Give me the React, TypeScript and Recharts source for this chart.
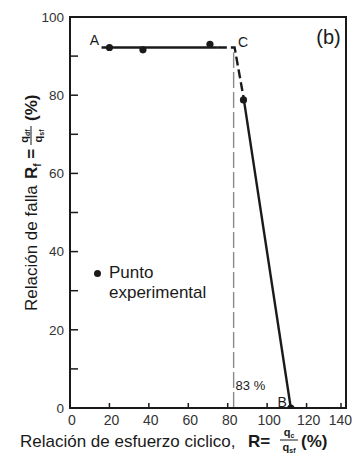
import {
  ComposedChart,
  Customized,
  Legend,
  Line,
  ReferenceArea,
  ReferenceDot,
  ReferenceLine,
  Scatter,
  XAxis,
  YAxis,
} from "recharts";

// axis ticks
const xTicks = [0, 20, 40, 60, 80, 100, 120, 140];
const yTicks = [0, 10, 20, 30, 40, 50, 60, 70, 80, 90, 100];

// experimental points
const expX = [20, 37, 71, 88, 112];
const expY = [92.2, 91.6, 93, 78.8, 0];

// interpreted failure line A -> C -> B
const plateauX = [16, 75];
const plateauY = [92.2, 92.2];
const dashX = [75, 83.5, 88];
const dashY = [92.2, 92.2, 79.5];
const dropX = [88, 112];
const dropY = [79.5, 0];

const thresholdR = 83;
const thresholdTop = 91;

const font = "'Liberation Sans', Arial, sans-serif";
const ink = "#1a1a1a";

const toPoints = (xs: number[], ys: number[]) =>
  xs.map((x, i) => ({ x, y: ys[i] }));

const expData = toPoints(expX, expY);
const plateauData = toPoints(plateauX, plateauY);
const dashData = toPoints(dashX, dashY);
const dropData = toPoints(dropX, dropY);

function XTick({ x, y, payload }: any) {
  const label = String(payload.value);
  // keep the last label inside the picture
  const half = (label.length * 0.556 * 14) / 2;
  const tx = Math.min(x + 2, 352 - half);
  return (
    <g>
      <line x1={x} x2={x} y1={y - 6} y2={y - 11} stroke={ink} strokeWidth={1.5} />
      <text x={tx} y={y + 1} dy="0.71em" textAnchor="middle" fontSize={14} fill="#333" fontFamily={font}>
        {label}
      </text>
    </g>
  );
}

function YTick({ x, y, payload }: any) {
  const major = payload.value % 20 === 0;
  return (
    <g>
      <line x1={x + 6} x2={x + 14} y1={y} y2={y} stroke={ink} strokeWidth={1.5} />
      {major && (
        <text x={x} y={y} dy="0.355em" textAnchor="end" fontSize={13.5} fill="#333" fontFamily={font}>
          {payload.value}
        </text>
      )}
    </g>
  );
}

function Dot({ cx, cy }: any) {
  return <circle cx={cx} cy={cy} r={3.6} fill={ink} />;
}

function Titles() {
  return (
    <g fontFamily={font} fill={ink}>
      {/* x title */}
      <text x={20} y={447} fontSize={17}>
        Relación de esfuerzo ciclico,
      </text>
      <text x={248} y={447} fontSize={17} fontWeight="bold">
        R=
      </text>
      <text x={289} y={436} fontSize={11} fontWeight="bold" textAnchor="middle">
        q<tspan fontSize={7} dy={2}>c</tspan>
      </text>
      <line x1={280} x2={298} y1={440} y2={440} stroke={ink} strokeWidth={1} />
      <text x={289} y={451} fontSize={11} fontWeight="bold" textAnchor="middle">
        q<tspan fontSize={7} dy={2}>sf</tspan>
      </text>
      <text x={301} y={447} fontSize={17} fontWeight="bold">
        (%)
      </text>

      {/* y title */}
      <g transform="translate(31, 311) rotate(-90)">
        <text x={0} y={6} fontSize={17}>
          Relación de falla
        </text>
        <text x={132} y={6} fontSize={17} fontWeight="bold">
          R<tspan fontSize={10} dy={4}>f</tspan>
          <tspan dy={-4}> =</tspan>
        </text>
        <text x={175} y={-3} fontSize={11} fontWeight="bold" textAnchor="middle">
          q<tspan fontSize={7} dy={2}>df</tspan>
        </text>
        <line x1={166} x2={185} y1={0} y2={0} stroke={ink} strokeWidth={1} />
        <text x={175} y={11} fontSize={11} fontWeight="bold" textAnchor="middle">
          q<tspan fontSize={7} dy={2}>sf</tspan>
        </text>
        <text x={190} y={6} fontSize={17} fontWeight="bold">
          (%)
        </text>
      </g>
    </g>
  );
}

function LegendBox() {
  return (
    <div style={{ fontFamily: font, fontSize: 17, color: ink, lineHeight: "20px", position: "relative", textAlign: "left" }}>
      <span
        style={{
          position: "absolute",
          left: 0,
          top: 7,
          width: 7,
          height: 7,
          borderRadius: "50%",
          background: ink,
        }}
      />
      <div style={{ paddingLeft: 15 }}>Punto</div>
      <div style={{ paddingLeft: 15 }}>experimental</div>
    </div>
  );
}

const textLabel = (value: string, fontSize: number) => ({
  value,
  position: "center" as const,
  fontSize,
  fill: ink,
  fontFamily: font,
});

export default function App() {
  return (
    <div style={{ position: "absolute", left: 0, top: 0, width: 353, height: 468, background: "#fff" }}>
      <ComposedChart width={353} height={468} margin={{ top: 17, right: 7, bottom: 0, left: 0 }}>
        <XAxis
          type="number"
          dataKey="x"
          domain={[0, 140]}
          ticks={xTicks}
          height={60}
          tickSize={0}
          tickMargin={6}
          tickLine={false}
          tick={<XTick />}
          axisLine={{ stroke: ink, strokeWidth: 2 }}
          allowDataOverflow
        />
        <YAxis
          type="number"
          dataKey="y"
          domain={[0, 100]}
          ticks={yTicks}
          width={70}
          tickSize={0}
          tickMargin={6}
          tickLine={false}
          tick={<YTick />}
          axisLine={{ stroke: ink, strokeWidth: 2 }}
          interval={0}
          allowDataOverflow
        />
        <ReferenceArea x1={0} x2={140} y1={0} y2={100} fill="none" stroke={ink} strokeWidth={2} />
        <ReferenceLine
          segment={[
            { x: thresholdR, y: 0 },
            { x: thresholdR, y: thresholdTop },
          ]}
          stroke="#8a8a8a"
          strokeWidth={1.4}
          strokeDasharray="16 4"
        />
        <Line data={plateauData} dataKey="y" stroke={ink} strokeWidth={2.4} dot={false} isAnimationActive={false} />
        <Line
          data={dashData}
          dataKey="y"
          stroke={ink}
          strokeWidth={2.4}
          strokeDasharray="9 4"
          dot={false}
          isAnimationActive={false}
        />
        <Line data={dropData} dataKey="y" stroke={ink} strokeWidth={2.4} dot={false} isAnimationActive={false} />
        <Scatter
          name="Punto experimental"
          data={expData}
          fill={ink}
          shape={<Dot />}
          isAnimationActive={false}
        />
        <ReferenceDot x={12.4} y={94.1} r={0} label={textLabel("A", 14)} />
        <ReferenceDot x={87.8} y={93.6} r={0} label={textLabel("C", 14)} />
        <ReferenceDot x={107.6} y={1.6} r={0} label={textLabel("B", 14)} />
        <ReferenceDot x={91.5} y={5.9} r={0} label={textLabel("83 %", 13)} />
        <ReferenceDot x={131.1} y={94.9} r={0} label={textLabel("(b)", 20)} />
        <Legend
          layout="horizontal"
          verticalAlign="middle"
          align="center"
          content={<LegendBox />}
          wrapperStyle={{ position: "absolute", left: 94, top: 263, width: 130, height: 42 }}
        />
        <Customized component={Titles} />
      </ComposedChart>
    </div>
  );
}
